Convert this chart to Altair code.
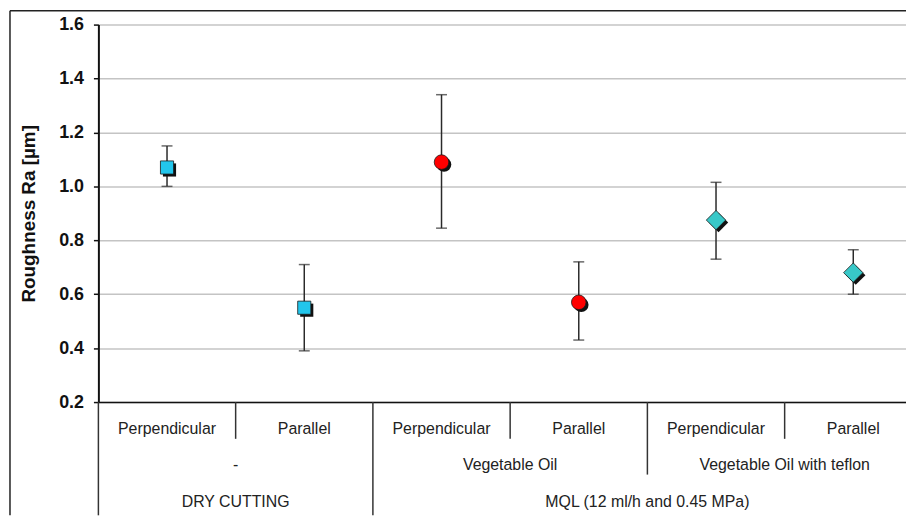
import altair as alt
import pandas as pd

# ---- data ----
conditions = ["Perpendicular", "Parallel", "Perpendicular", "Parallel", "Perpendicular", "Parallel"]
lubricants = ["-", "-", "Vegetable Oil", "Vegetable Oil",
              "Vegetable Oil with teflon", "Vegetable Oil with teflon"]
methods = ["DRY CUTTING", "DRY CUTTING",
           "MQL (12 ml/h and 0.45 MPa)", "MQL (12 ml/h and 0.45 MPa)",
           "MQL (12 ml/h and 0.45 MPa)", "MQL (12 ml/h and 0.45 MPa)"]
series = ["dry", "dry", "veg", "veg", "teflon", "teflon"]
ra_mean = [1.07, 0.55, 1.09, 0.57, 0.875, 0.68]
ra_low = [1.00, 0.39, 0.845, 0.43, 0.73, 0.60]
ra_high = [1.15, 0.71, 1.34, 0.72, 1.015, 0.765]
y_ticks = [0.2, 0.4, 0.6, 0.8, 1.0, 1.2, 1.4, 1.6]

series_names = ["dry", "veg", "teflon"]
series_colors = ["#22C6EC", "#FF0000", "#38C8C8"]
series_shapes = ["square", "circle", "diamond"]
series_sizes = [175, 215, 380]

idx = list(range(len(conditions)))
df = pd.DataFrame({"idx": idx, "condition": conditions, "lub": lubricants,
                   "method": methods, "series": series,
                   "mean": ra_mean, "low": ra_low, "high": ra_high})

# group label centres
lub_df = df.groupby("lub", sort=False)["idx"].mean().reset_index()
met_df = df.groupby("method", sort=False)["idx"].mean().reset_index()

# separators between categories (level = depth of the hierarchy that changes)
sep_rows = [{"pos": -0.5, "level": 3}]
for i in range(len(idx) - 1):
    if methods[i] != methods[i + 1]:
        lvl = 3
    elif lubricants[i] != lubricants[i + 1]:
        lvl = 2
    else:
        lvl = 1
    sep_rows.append({"pos": i + 0.5, "level": lvl})
sep_df = pd.DataFrame(sep_rows)

PLOT_W = 813
PLOT_H = 380
FULL_W = 829  # the reference's category axis runs past the right edge

xscale = alt.Scale(domain=[-0.5, len(idx) - 0.5], range=[0, FULL_W])
yscale = alt.Scale(domain=[0.2, 1.6])

X = alt.X("idx:Q", scale=xscale,
          axis=alt.Axis(labels=False, ticks=False, grid=False, title=None,
                        domain=True, domainColor="#111", domainWidth=1.5))

base = alt.Chart(df)

yaxis = alt.Axis(values=y_ticks, format=".1f", title="Roughness Ra [µm]",
                 labelFont="Liberation Sans", labelFontSize=18, labelFontWeight="bold",
                 labelColor="#111", labelPadding=10,
                 titleFont="Liberation Sans", titleFontSize=19, titleFontWeight="bold",
                 titleColor="#111", titlePadding=20,
                 domainColor="#111", domainWidth=2,
                 tickColor="#111", tickSize=5, tickWidth=1.5,
                 grid=True, gridColor="#c4c4c4", gridWidth=1.5)

err = base.mark_rule(color="#2a2a2a", strokeWidth=1.5).encode(
    x=X, y=alt.Y("low:Q", scale=yscale, axis=yaxis), y2="high:Q")

cap_lo = base.mark_tick(color="#2a2a2a", thickness=1.5, size=11, orient="horizontal").encode(
    x="idx:Q", y="low:Q")
cap_hi = base.mark_tick(color="#2a2a2a", thickness=1.5, size=11, orient="horizontal").encode(
    x="idx:Q", y="high:Q")

marker_layers = []
for name, col, shp, sz in zip(series_names, series_colors, series_shapes, series_sizes):
    sub = alt.Chart(df[df.series == name])
    marker_layers.append(
        sub.mark_point(filled=True, opacity=1, color="#111", shape=shp, size=sz,
                       xOffset=2.5, yOffset=2.5).encode(x="idx:Q", y="mean:Q"))
    marker_layers.append(
        sub.mark_point(filled=True, opacity=1, fill=col, stroke="#1a1a1a", strokeWidth=0.8,
                       shape=shp, size=sz).encode(x="idx:Q", y="mean:Q"))

txt_style = dict(font="Liberation Sans", fontSize=16, color="#222", baseline="middle", align="center")

row1 = base.mark_text(**txt_style).encode(x="idx:Q", y=alt.value(PLOT_H + 27), text="condition:N")
row2 = alt.Chart(lub_df).mark_text(**txt_style).encode(x="idx:Q", y=alt.value(PLOT_H + 63), text="lub:N")
row3 = alt.Chart(met_df).mark_text(**txt_style).encode(x="idx:Q", y=alt.value(PLOT_H + 101), text="method:N")

sep_ends = {1: PLOT_H + 37, 2: PLOT_H + 73, 3: PLOT_H + 114}
seps = [
    alt.Chart(sep_df[sep_df.level == lvl]).mark_rule(color="#333", strokeWidth=1.5).encode(
        x="pos:Q", y=alt.value(PLOT_H), y2=alt.value(end))
    for lvl, end in sep_ends.items()
]

frame_v = alt.Chart(pd.DataFrame({"k": [0]})).mark_rule(color="#222", strokeWidth=1.5).encode(
    x=alt.value(-89), y=alt.value(-14), y2=alt.value(PLOT_H + 114))
frame_h = alt.Chart(pd.DataFrame({"k": [0]})).mark_rule(color="#222", strokeWidth=1.5).encode(
    x=alt.value(-89), x2=alt.value(PLOT_W), y=alt.value(-14))

chart = alt.layer(err, cap_lo, cap_hi, *marker_layers, row1, row2, row3, *seps, frame_v, frame_h).properties(
    width=PLOT_W, height=PLOT_H,
    autosize=alt.AutoSizeParams(type="none"),
    padding={"left": 91, "top": 15, "right": 0, "bottom": 114},
    background="white",
).configure_view(stroke=None)

chart.save("out.html", embed_options={"renderer": "svg", "actions": False})
